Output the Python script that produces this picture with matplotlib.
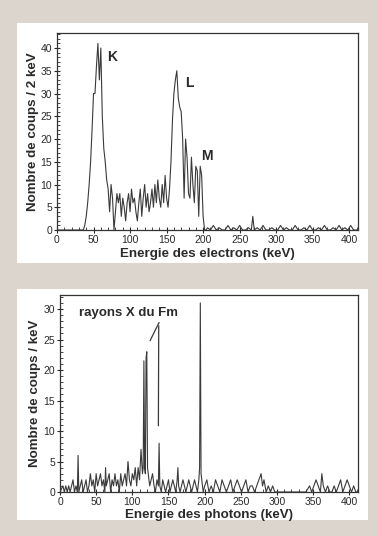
import matplotlib.pyplot as plt
from matplotlib.patches import Rectangle
from matplotlib.ticker import MultipleLocator

plt.rcParams['font.family'] = ['Liberation Sans', 'DejaVu Sans']

# electron spectrum (counts per 2 keV)
e_energy = [0, 10, 20, 30, 36, 38, 40, 42, 44, 46, 48, 50, 52, 54, 56, 58, 60, 62, 64,
            66, 68, 70, 72, 74, 76, 78, 80, 82, 84, 86, 88, 90, 92, 94, 96, 98, 100,
            102, 104, 106, 108, 110, 112, 114, 116, 118, 120, 122, 124, 126, 128, 130,
            132, 134, 136, 138, 140, 142, 144, 146, 148, 150, 152, 154, 156, 158, 160,
            162, 164, 166, 168, 170, 172, 174, 176, 178, 180, 182, 184, 186, 188, 190,
            192, 194, 196, 198, 200, 202, 204, 206, 210, 214, 218, 222, 226, 230, 234,
            238, 242, 246, 250, 254, 258, 262, 266, 268, 270, 274, 278, 282, 286, 290,
            294, 298, 302, 306, 310, 314, 318, 322, 326, 330, 334, 338, 342, 346, 350,
            354, 358, 362, 366, 370, 374, 378, 382, 386, 390, 394, 398, 402, 406, 410]
e_counts = [0, 0, 0, 0, 0, 1, 3, 6, 10, 15, 22, 30, 30, 36, 41, 33, 40, 25, 18,
            15, 11, 9, 4, 10, 7, 0, 4, 8, 6, 8, 3, 7, 5, 2, 6, 8, 4,
            9, 6, 7, 4, 2, 6, 9, 3, 7, 10, 5, 8, 4, 6, 9,
            5, 10, 6, 11, 7, 5, 10, 6, 12, 7, 5, 9, 15, 24, 30,
            33, 35, 29, 27, 26, 20, 7, 20, 16, 8, 7, 16, 10, 6, 14,
            13, 3, 14, 12, 3, 0, 0, 0.5, 0, 1, 0, 0.5, 0, 0, 1,
            0, 0.5, 0, 1, 0, 0, 0.5, 0, 3, 0, 0.5, 0, 1, 0, 0,
            0.5, 0, 0, 1, 0, 0.5, 0, 0, 1, 0, 0, 0.5, 0, 1, 0,
            0, 0.5, 0, 1, 0, 0, 0.5, 0, 1, 0, 0.5, 0, 1, 0, 0]

# photon spectrum (counts per keV)
p_energy = [0, 4, 6, 8, 10, 12, 14, 16, 18, 20, 22, 24, 25, 26, 28, 30, 32, 34, 36,
            38, 40, 42, 44, 46, 48, 50, 52, 54, 56, 58, 60, 62, 63, 64, 66, 68, 70,
            72, 74, 76, 78, 80, 82, 84, 86, 88, 90, 92, 94, 96, 98, 100, 102, 104,
            106, 108, 110, 112, 114, 115, 116, 117, 118, 119, 120, 121, 122, 124, 126,
            128, 130, 132, 134, 136, 137, 138, 140, 142, 144, 146, 148, 150, 152, 154,
            156, 158, 160, 162, 163, 164, 166, 168, 170, 172, 174, 176, 178, 180, 182,
            184, 186, 188, 190, 192, 193, 194, 195, 196, 197, 198, 200, 203, 206, 209,
            212, 215, 218, 221, 224, 227, 230, 233, 236, 239, 242, 245, 248, 251, 254,
            257, 260, 263, 266, 269, 272, 275, 278, 280, 282, 285, 288, 291, 294, 297,
            300, 305, 310, 315, 320, 325, 330, 335, 340, 345, 348, 351, 354, 357, 360,
            362, 364, 367, 370, 373, 376, 379, 382, 385, 388, 391, 394, 397, 400, 403,
            406, 409, 412]
p_counts = [0, 1, 0, 1, 0, 1, 0, 1, 2, 0, 1, 0, 6, 0, 1, 2, 0, 1, 2,
            0, 1, 3, 1, 2, 0, 3, 1, 2, 3, 1, 2, 0, 4, 1, 2, 3, 0,
            2, 1, 3, 1, 2, 0, 3, 1, 2, 3, 1, 5, 2, 1, 3, 2, 4,
            1, 4, 2, 7, 3, 4, 21.5, 4, 3, 22, 23, 4, 3, 1, 2,
            3, 1, 0, 2, 1, 8, 1, 0, 2, 1, 0, 1, 2, 0, 1,
            2, 1, 0, 2, 4, 1, 0, 1, 2, 1, 0, 1, 2, 1, 0,
            1, 2, 1, 0, 2, 4, 31, 3, 2, 1, 0, 1, 2, 0, 1,
            0, 2, 1, 0, 2, 1, 0, 1, 2, 0, 1, 2, 1, 0, 1,
            2, 0, 1, 1, 0, 1, 2, 3, 1, 2, 0, 1, 0, 1, 0,
            0, 0, 0, 0, 0, 0, 0, 0, 0, 1, 0, 1, 2, 1, 0,
            3, 1, 0, 1, 0, 0, 1, 0, 1, 2, 0, 1, 2, 1, 0,
            1, 0, 0]

W, H = 377, 536
fig = plt.figure(figsize=(W / 100, H / 100), dpi=100, facecolor='#dbd5cd')

# white panels behind each plot, on a background axes
bg = fig.add_axes([0, 0, 1, 1], zorder=-1)
bg.set_xlim(0, W)
bg.set_ylim(H, 0)
bg.axis('off')
for x0, y0, x1, y1 in [(17, 23, 368, 263), (17, 289, 368, 520)]:
    bg.add_patch(Rectangle((x0, y0), x1 - x0, y1 - y0, facecolor='white', edgecolor='none'))

ax1 = fig.add_axes([57 / W, 1 - 230 / H, 301 / W, 197 / H])
ax2 = fig.add_axes([60 / W, 1 - 492 / H, 298 / W, 197 / H])

txt = '#2a2a2a'
for ax in (ax1, ax2):
    ax.set_facecolor('none')
    ax.set_xlim(0, 412)
    ax.xaxis.set_major_locator(MultipleLocator(50))
    ax.xaxis.set_minor_locator(MultipleLocator(10))
    ax.yaxis.set_major_locator(MultipleLocator(5))
    ax.yaxis.set_minor_locator(MultipleLocator(1))
    ax.tick_params(which='major', direction='inout', length=5, width=0.8,
                   labelsize=7.5, pad=1, colors=txt)
    ax.tick_params(which='minor', direction='in', length=2.5, width=0.6, colors=txt)
    for sp in ax.spines.values():
        sp.set_linewidth(0.9)
        sp.set_color('#333333')

ax1.plot(e_energy, e_counts, color='#3a3a3a', lw=0.8)
ax1.set_ylim(0, 43.3)
ax1.set_xlabel('Energie des electrons (keV)', fontsize=9.6, fontweight='bold',
               color=txt, labelpad=2)
ax1.set_ylabel('Nombre de coups / 2 keV', fontsize=9.6, fontweight='bold',
               color=txt, labelpad=1)
ax1.text(75, 38, 'K', fontsize=10, fontweight='bold', color=txt, ha='center', va='center')
ax1.text(181, 32.3, 'L', fontsize=10, fontweight='bold', color=txt, ha='center', va='center')
ax1.text(205, 16.2, 'M', fontsize=10, fontweight='bold', color=txt, ha='center', va='center')

ax2.plot(p_energy, p_counts, color='#3a3a3a', lw=0.8)
ax2.set_ylim(0, 32.3)
ax2.set_xlabel('Energie des photons (keV)', fontsize=9.6, fontweight='bold',
               color=txt, labelpad=1.5)
ax2.set_ylabel('Nombre de coups / keV', fontsize=9.6, fontweight='bold',
               color=txt, labelpad=2)
ax2.text(95, 29.3, 'rayons X du Fm', fontsize=9.5, fontweight='bold', color=txt,
         ha='center', va='center')
ax2.annotate('', xy=(122.8, 24.4), xytext=(138.7, 28.2),
             arrowprops=dict(arrowstyle='-', color='#3a3a3a', lw=0.9))
ax2.annotate('', xy=(136, 10.4), xytext=(136.5, 27.7),
             arrowprops=dict(arrowstyle='-', color='#3a3a3a', lw=0.9))

fig.savefig('out.png', dpi=100, facecolor=fig.get_facecolor())
